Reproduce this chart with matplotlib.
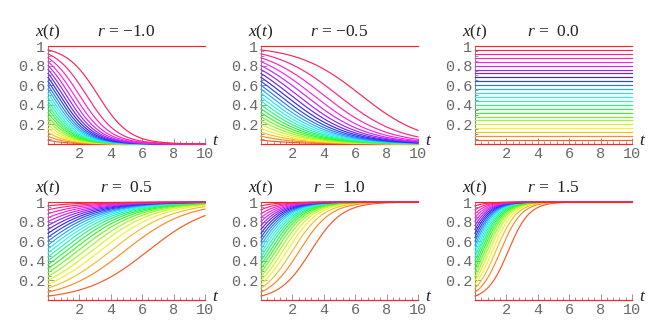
import numpy as np
import matplotlib
matplotlib.use("Agg")
import matplotlib.pyplot as plt
from matplotlib.colors import hsv_to_rgb
from matplotlib.ticker import MultipleLocator, FixedFormatter, FixedLocator

plt.rcParams['mathtext.fontset'] = 'custom'
plt.rcParams['mathtext.it'] = 'Liberation Serif:italic'
plt.rcParams['mathtext.rm'] = 'Liberation Serif'

# growth rates, one per panel
r_values = [-1.0, -0.5, 0.0, 0.5, 1.0, 1.5]
r_labels = ["\u22121.0", "\u22120.5", " 0.0", " 0.5", " 1.0", " 1.5"]
# starting values x(0) of the curves
x0_values = [0.0, 0.04, 0.08, 0.12, 0.16, 0.20, 0.24, 0.28, 0.32, 0.36,
             0.40, 0.44, 0.48, 0.52, 0.56, 0.60, 0.64, 0.68, 0.72, 0.76,
             0.80, 0.84, 0.88, 0.92, 0.96, 1.0]
t = np.linspace(0, 10, 300)

y_ticks = [0.2, 0.4, 0.6, 0.8, 1.0]
y_tick_labels = ["0.2", "0.4", "0.6", "0.8", "1"]
x_ticks = [2, 4, 6, 8, 10]
x_tick_labels = ["2", "4", "6", "8", "10"]

W, H = 663, 336
fig = plt.figure(figsize=(W / 100, H / 100), dpi=100)

col_left = [48, 261, 475]
row_top = [46, 202]
pw, ph = 157, 98
grey = "#888888"

for k, r in enumerate(r_values):
    row, col = divmod(k, 3)
    ax = fig.add_axes([col_left[col] / W, 1 - (row_top[row] + ph) / H, pw / W, ph / H])
    for x0 in x0_values:
        e = np.exp(r * t)
        x = x0 * e / (1 - x0 + x0 * e)
        # hue wheel, slightly washed out
        c = 0.85 * hsv_to_rgb((x0 % 1.0, 1.0, 0.97)) + 0.15
        ax.plot(t, x, color=c, lw=0.85, clip_on=False, zorder=3)
    ax.set_xlim(0, 10)
    ax.set_ylim(0, 1)
    for s in ["top", "right"]:
        ax.spines[s].set_visible(False)
    for s in ["left", "bottom"]:
        ax.spines[s].set_color(grey)
        ax.spines[s].set_linewidth(0.8)
    ax.yaxis.set_major_locator(FixedLocator(y_ticks))
    ax.yaxis.set_major_formatter(FixedFormatter(y_tick_labels))
    ax.xaxis.set_major_locator(FixedLocator(x_ticks))
    ax.xaxis.set_major_formatter(FixedFormatter(x_tick_labels))
    ax.xaxis.set_minor_locator(MultipleLocator(0.4))
    ax.yaxis.set_minor_locator(MultipleLocator(0.05))
    ax.tick_params(which="both", direction="in", color=grey, width=0.6)
    ax.tick_params(which="major", length=4, pad=2)
    ax.tick_params(which="minor", length=2)
    for lab in ax.get_xticklabels() + ax.get_yticklabels():
        lab.set_fontfamily("Liberation Mono")
        lab.set_fontsize(11)
        lab.set_color("#6a6a6a")
    ax.patch.set_visible(False)
    ax.text(0, 1.1, r"$x$($t$)", transform=ax.transAxes, ha="center", va="baseline",
            fontsize=12.5, family="Liberation Serif", color="#222222")
    ax.text(0.5, 1.1, r"$r$ = " + r_labels[k], transform=ax.transAxes, ha="center",
            va="baseline", fontsize=12.5, family="Liberation Serif", color="#222222")
    ax.text(1.045, 0.04, r"$t$", transform=ax.transAxes, ha="left", va="center",
            fontsize=12.5, color="#222222")

fig.savefig("out.png", dpi=100)
